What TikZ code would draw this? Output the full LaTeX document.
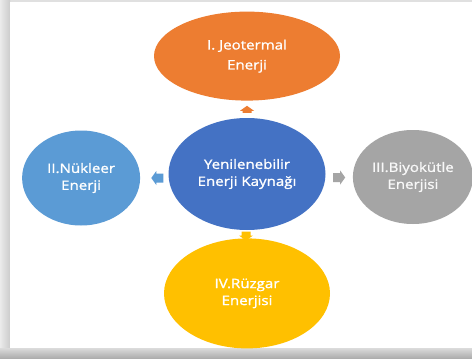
\documentclass[tikz,border=0pt]{standalone}
\usepackage{fontspec}
\newfontfamily\lblfont[FakeStretch=1.16,FakeBold=1.3]{Open Sans}
\usetikzlibrary{positioning,calc,shapes.geometric}
\definecolor{kblue}{HTML}{4472C4}
\definecolor{jorange}{HTML}{ED7D31}
\definecolor{nblue}{HTML}{5B9BD5}
\definecolor{bgray}{HTML}{A5A5A5}
\definecolor{rgold}{HTML}{FFC000}
\tikzset{
  src/.style={ellipse,fill=#1,text=white,align=center,inner sep=0pt,
    font={\lblfont\fontsize{13}{17}\selectfont}},
}
% small block arrow: centre, direction, length, colour
\newcommand{\blkarrow}[4]{%
  \fill[#4,shift={(#1)},rotate=#2]
    (-#3/2,-4.5) -- (#3/2-5,-4.5) -- (#3/2-5,-7) -- (#3/2,0)
    -- (#3/2-5,7) -- (#3/2-5,4.5) -- (-#3/2,4.5) -- cycle;}

\begin{document}
\begin{tikzpicture}[x=1pt,y=-1pt]
  \useasboundingbox (0,0) rectangle (472,359);
  % page with shadow
  \fill[black!12] (0,0) rectangle (472,359);
  \shade[left color=black!8,right color=black!20] (0,0) rectangle (10,359);
  \shade[top color=black!14,bottom color=black!34] (0,348) rectangle (472,359);
  \fill[white] (10,2) rectangle (472,348);

  % arrow below lies under the circles
  \coordinate (ar) at (246,236);
  \blkarrow{ar}{270}{9}{rgold}

  \node[src=kblue,minimum width=157pt,minimum height=112pt] (kaynak) at (247,174) {Yenilenebilir\\Enerji Kaynağı};
  \node[src=jorange,minimum width=186pt,minimum height=89pt,above=17pt of kaynak] (jeo) {I. Jeotermal\\[3pt]Enerji};
  \node[src=nblue,minimum width=118pt,minimum height=95pt,left=28pt of kaynak,yshift=-4pt] (nuk) {II.Nükleer\\Enerji};
  \node[src=bgray,minimum width=120pt,minimum height=94pt,right=27pt of kaynak,yshift=-3pt,text=white!92!bgray] (biyo) {III.Biyokütle\\Enerjisi};
  \node[src=rgold,minimum width=166pt,minimum height=110pt,below=8pt of kaynak] (ruz) {IV.Rüzgar\\Enerjisi};

  \coordinate (aj) at ($(kaynak.north)!0.5!(jeo.south)$);
  \coordinate (an) at ($(kaynak.west)!0.5!(nuk.east)+(3,2)$);
  \coordinate (ab) at ($(kaynak.east)!0.5!(biyo.west)+(0,2)$);
  \blkarrow{aj}{90}{7}{jorange}
  \blkarrow{an}{180}{12}{nblue}
  \blkarrow{ab}{0}{12}{bgray}
\end{tikzpicture}
\end{document}
